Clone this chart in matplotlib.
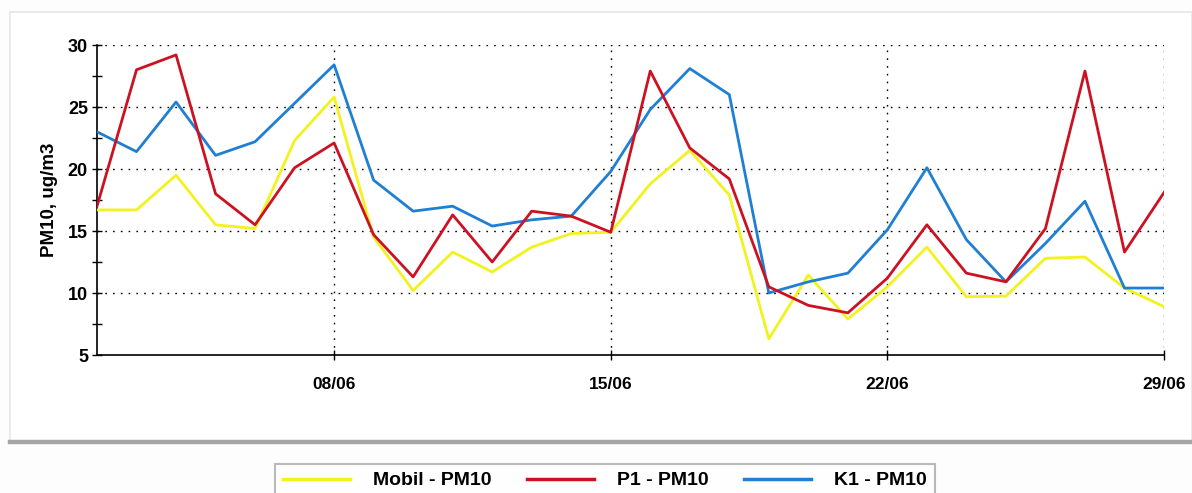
import matplotlib
matplotlib.use("Agg")
import matplotlib.pyplot as plt
from matplotlib.patches import Rectangle
from matplotlib.lines import Line2D

plt.rcParams['font.family'] = ['Liberation Sans', 'DejaVu Sans']

# Daily PM10 values, 02/06 .. 29/06
days = list(range(2, 30))
mobil_pm10 = [16.7, 16.7, 19.5, 15.5, 15.2, 22.3, 25.8, 14.5, 10.2, 13.3,
              11.7, 13.7, 14.8, 14.9, 18.8, 21.5, 17.9, 6.3, 11.45, 7.9,
              10.5, 13.7, 9.7, 9.75, 12.8, 12.9, 10.4, 8.9]
p1_pm10 = [17.0, 28.0, 29.2, 18.0, 15.5, 20.1, 22.1, 14.7, 11.3, 16.3,
           12.5, 16.6, 16.2, 14.9, 27.9, 21.7, 19.2, 10.5, 9.0, 8.4,
           11.2, 15.5, 11.6, 10.9, 15.2, 27.9, 13.3, 18.1]
k1_pm10 = [23.0, 21.4, 25.4, 21.1, 22.2, 25.3, 28.4, 19.1, 16.6, 17.0,
           15.4, 15.9, 16.2, 19.8, 24.8, 28.1, 26.0, 10.0, 10.9, 11.6,
           15.1, 20.1, 14.3, 10.9, 14.0, 17.4, 10.4, 10.4]

tick_days = [8, 15, 22, 29]
tick_labels = ['08/06', '15/06', '22/06', '29/06']

W, H = 1192, 493
fig = plt.figure(figsize=(W / 100, H / 100), dpi=100)
fig.patch.set_facecolor('#fdfdfd')

# panel background and borders
fig.add_artist(Rectangle((10 / W, 1 - 442 / H), (W - 10) / W, (442 - 12) / H,
                         transform=fig.transFigure, facecolor='white',
                         edgecolor='#e6e6e6', linewidth=1.2, zorder=0))
fig.add_artist(Line2D([10 / W, 1], [1 - 442 / H, 1 - 442 / H],
                      transform=fig.transFigure, color='#a6a6a6',
                      linewidth=3.2, zorder=1))

ax = fig.add_axes([97 / W, 1 - 355 / H, (1164 - 97) / W, (355 - 45) / H])
ax.set_facecolor('white')

lw = 2.0
ax.plot(days, mobil_pm10, color='#f2f21e', linewidth=lw, zorder=3, label='Mobil - PM10')
ax.plot(days, k1_pm10, color='#1f7fd2', linewidth=lw, zorder=4, label='K1 - PM10')
ax.plot(days, p1_pm10, color='#cc1222', linewidth=lw, zorder=5, label='P1 - PM10')

ax.set_xlim(2, 29)
ax.set_ylim(5, 30)
ax.set_xticks(tick_days)
ax.set_xticklabels(tick_labels)
ax.set_yticks([5, 10, 15, 20, 25, 30])
ax.set_yticks([7.5, 12.5, 17.5, 22.5, 27.5], minor=True)

for lab in ax.get_xticklabels():
    lab.set_fontweight('bold')
    lab.set_fontsize(12.5)
for lab in ax.get_yticklabels():
    lab.set_fontweight('bold')
    lab.set_fontsize(13)

ax.tick_params(axis='both', which='both', direction='inout', length=7,
               width=1, color='black')
ax.tick_params(axis='x', pad=12)
ax.tick_params(axis='y', pad=3)

ax.spines['top'].set_visible(False)
ax.spines['right'].set_visible(False)
ax.spines['left'].set_linewidth(1.2)
ax.spines['bottom'].set_linewidth(1.2)

# dotted grid
for v in [10, 15, 20, 25, 30]:
    ax.axhline(v, color='black', linewidth=1.0, linestyle=(0, (1.2, 4.4)), zorder=2)
for d in tick_days:
    ax.axvline(d, color='black', linewidth=1.0, linestyle=(0, (1.2, 4.4)), zorder=2)

ax.set_ylabel('PM10, ug/m3', fontweight='bold', fontsize=13.5, labelpad=7)

handles, labels = ax.get_legend_handles_labels()
order = [0, 2, 1]
leg = fig.legend([handles[i] for i in order], [labels[i] for i in order],
                 loc='upper left', bbox_to_anchor=(275 / W, 1 - 464 / H),
                 ncol=3, frameon=True, fancybox=False, shadow=False,
                 prop={'weight': 'bold', 'size': 14},
                 handlelength=3.45, handletextpad=1.2, columnspacing=1.8,
                 borderpad=0.4, borderaxespad=0)
leg.get_frame().set_edgecolor('#a8a8a8')
leg.get_frame().set_linewidth(1.5)
for h in leg.get_lines():
    h.set_linewidth(2.5)

fig.savefig('out.png', dpi=100, facecolor=fig.get_facecolor())
